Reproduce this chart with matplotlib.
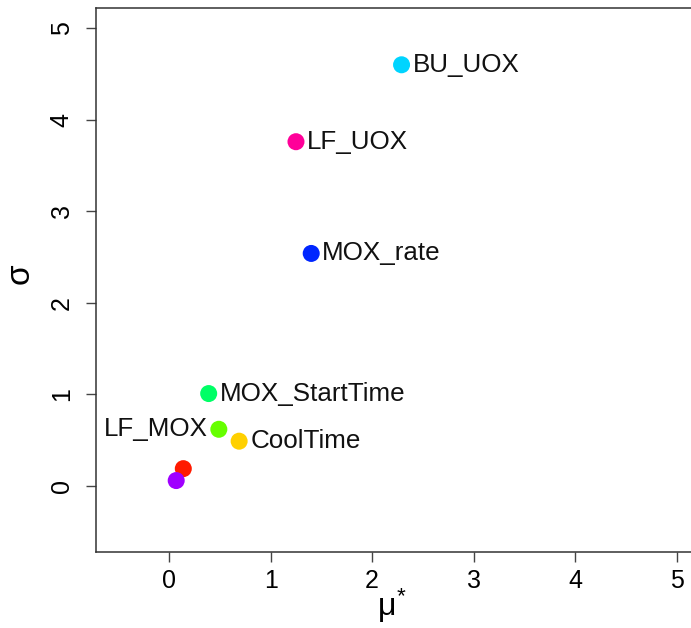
import matplotlib.pyplot as plt

plt.rcParams['font.family'] = ['Liberation Sans', 'DejaVu Sans']
plt.rcParams['mathtext.fontset'] = 'custom'
plt.rcParams['mathtext.rm'] = 'Liberation Sans'
plt.rcParams['mathtext.it'] = 'Liberation Sans'

# Morris screening results: mean of |elementary effects| vs their std dev
names = ['BU_UOX', 'LF_UOX', 'MOX_rate', 'MOX_StartTime', 'LF_MOX', 'CoolTime', '', '']
mu_star = [2.29, 1.25, 1.40, 0.39, 0.49, 0.69, 0.14, 0.07]
sigma = [4.60, 3.76, 2.54, 1.01, 0.62, 0.49, 0.19, 0.06]
colors = ['#00D4FF', '#FF0099', '#0026FF', '#00FF66', '#66FF00', '#FFD000', '#FF1A00', '#A000FF']
label_side = ['right', 'right', 'right', 'right', 'left', 'right', 'right', 'right']

fig = plt.figure(figsize=(6.91, 6.28), dpi=100)
ax = fig.add_axes([96 / 691, 76 / 628, 603 / 691, 544 / 628])

ax.scatter(mu_star, sigma, s=150, c=colors, edgecolors='none', zorder=3)
for x, y, name, side in zip(mu_star, sigma, names, label_side):
    if not name:
        continue
    if side == 'right':
        ax.annotate(name, (x, y), xytext=(8, 0), textcoords='offset points',
                    ha='left', va='center', fontsize=18.7, color='#111111')
    else:
        ax.annotate(name, (x, y), xytext=(-8, 0), textcoords='offset points',
                    ha='right', va='center', fontsize=18.7, color='#111111')

ax.set_xlim(-0.72, 5.22)
ax.set_ylim(-0.72, 5.22)
ax.set_xticks(range(6))
ax.set_yticks(range(6))
ax.tick_params(axis='both', labelsize=18, length=7, width=1, color='#444444')
ax.tick_params(axis='x', pad=5)
ax.tick_params(axis='y', pad=9)
plt.setp(ax.get_yticklabels(), rotation=90, va='center')
for sp in ax.spines.values():
    sp.set_linewidth(1.1)
    sp.set_color('#333333')

# axis titles placed in figure pixels
fig.text(392 / 691, 1 - 606 / 628, r'$\mu^{*}$', fontsize=23, ha='center', va='center')
fig.text(22 / 691, 1 - 275 / 628, r'$\sigma$', fontsize=24, ha='center', va='center', rotation=90)

fig.savefig('out.png', dpi=100)
